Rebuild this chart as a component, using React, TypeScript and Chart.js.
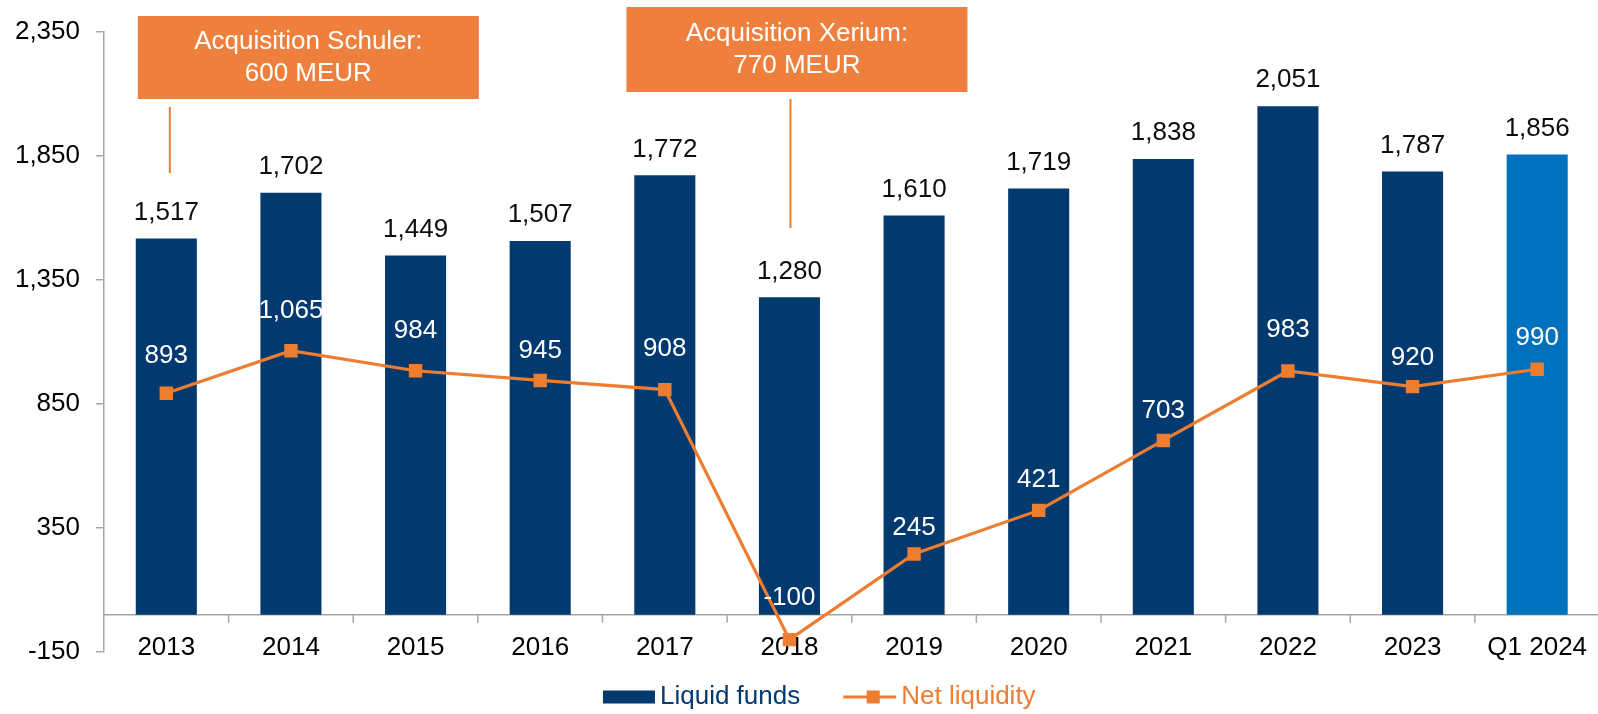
import React, { useEffect, useRef } from "react";
import { Chart, registerables } from "chart.js";

Chart.register(...registerables);

const categories = ["2013", "2014", "2015", "2016", "2017", "2018", "2019", "2020", "2021", "2022", "2023", "Q1 2024"];
const liquidFunds = [1517, 1702, 1449, 1507, 1772, 1280, 1610, 1719, 1838, 2051, 1787, 1856];
const netLiquidity = [893, 1065, 984, 945, 908, -100, 245, 421, 703, 983, 920, 990];
const yMin = -150;
const yMax = 2350;
const yStep = 500;
const annotationTexts = [
  ["Acquisition Schuler:", "600 MEUR"],
  ["Acquisition Xerium:", "770 MEUR"],
];
const annotationCategories = [0, 5];
const seriesNames = ["Liquid funds", "Net liquidity"];

const FONT = '"Liberation Sans", Arial, Helvetica, sans-serif';
const NAVY = "#02396F";
const LIGHT_BLUE = "#0071BC";
const ORANGE = "#ED7D31";
const BOX_ORANGE = "#EE7F3C";
const AXIS = "#A6A6A6";

// style: vertical offsets of the net-liquidity labels above their points
const lineLabelOffsets = [38, 40, 40, 30, 41, 42, 26, 31, 30, 41, 29, 31];

const fmt = (v: number) => Number(v).toLocaleString("en-US");

const customPlugin = {
  id: "customDraw",
  beforeDatasetsDraw(chart: any) {
    const { ctx, chartArea, scales } = chart;
    const x = scales.x;
    const y = scales.y;
    const y0 = y.getPixelForValue(0);
    const half = (x.getPixelForValue(1) - x.getPixelForValue(0)) / 2;
    ctx.save();
    ctx.strokeStyle = AXIS;
    ctx.lineWidth = 1.5;
    ctx.beginPath();
    ctx.moveTo(chartArea.left, y0);
    ctx.lineTo(chartArea.right, y0);
    for (let i = 0; i < categories.length; i++) {
      const px = x.getPixelForValue(i) + half;
      ctx.moveTo(px, y0);
      ctx.lineTo(px, y0 + 8);
    }
    ctx.stroke();
    ctx.restore();
  },
  afterDatasetsDraw(chart: any) {
    const { ctx, scales } = chart;
    const x = scales.x;
    ctx.save();
    ctx.font = `26px ${FONT}`;
    ctx.textAlign = "center";
    ctx.textBaseline = "middle";

    // bar labels
    const barMeta = chart.getDatasetMeta(0);
    barMeta.data.forEach((el: any, i: number) => {
      ctx.fillStyle = "#0D0D0D";
      ctx.fillText(fmt(liquidFunds[i]), el.x, el.y - 26);
    });

    // line labels
    const lineMeta = chart.getDatasetMeta(1);
    lineMeta.data.forEach((el: any, i: number) => {
      ctx.fillStyle = "#FFFFFF";
      ctx.fillText(fmt(netLiquidity[i]), el.x, el.y - lineLabelOffsets[i]);
    });

    // annotations
    const boxes = [
      { cx: x.getPixelForValue(annotationCategories[0]) + 142, top: 16, bottom: 99, lineTop: 107, lineBottom: 173 },
      { cx: x.getPixelForValue(annotationCategories[1]) + 7.5, top: 7, bottom: 92, lineTop: 99, lineBottom: 228 },
    ];
    boxes.forEach((b, k) => {
      const w = 341;
      ctx.fillStyle = BOX_ORANGE;
      ctx.fillRect(b.cx - w / 2, b.top, w, b.bottom - b.top);
      const mid = (b.top + b.bottom) / 2;
      ctx.fillStyle = "#FFFFFF";
      ctx.fillText(annotationTexts[k][0], b.cx, mid - 16);
      ctx.fillText(annotationTexts[k][1], b.cx, mid + 16);
      const lx = x.getPixelForValue(annotationCategories[k]) + (k === 0 ? 3.5 : 1);
      ctx.strokeStyle = ORANGE;
      ctx.lineWidth = 2;
      ctx.beginPath();
      ctx.moveTo(lx, b.lineTop);
      ctx.lineTo(lx, b.lineBottom);
      ctx.stroke();
    });

    // legend
    const ly = 697;
    let lx = 603;
    ctx.textAlign = "left";
    ctx.fillStyle = NAVY;
    ctx.fillRect(lx, ly - 6.5, 52, 13);
    lx += 57;
    ctx.fillText(seriesNames[0], lx, ly);
    lx += ctx.measureText(seriesNames[0]).width + 43;
    ctx.strokeStyle = ORANGE;
    ctx.lineWidth = 3;
    ctx.beginPath();
    ctx.moveTo(lx, ly);
    ctx.lineTo(lx + 53, ly);
    ctx.stroke();
    ctx.fillStyle = ORANGE;
    ctx.fillRect(lx + 23.5, ly - 6.5, 13, 13);
    lx += 58;
    ctx.fillText(seriesNames[1], lx, ly);
    ctx.restore();
  },
};

export default function App() {
  const canvasRef = useRef<HTMLCanvasElement | null>(null);

  useEffect(() => {
    if (!canvasRef.current) return;
    const barColors = categories.map((_, i) => (i === categories.length - 1 ? LIGHT_BLUE : NAVY));
    const chart = new Chart(canvasRef.current, {
      type: "bar",
      data: {
        labels: categories,
        datasets: [
          {
            type: "bar",
            label: seriesNames[0],
            data: liquidFunds,
            backgroundColor: barColors,
            barPercentage: 0.49,
            categoryPercentage: 1,
            order: 2,
          } as any,
          {
            type: "line",
            label: seriesNames[1],
            data: netLiquidity,
            borderColor: ORANGE,
            borderWidth: 3.2,
            pointStyle: "rect",
            pointRadius: 9.5,
            pointBackgroundColor: ORANGE,
            pointBorderWidth: 0,
            tension: 0,
            order: 1,
          } as any,
        ],
      },
      options: {
        responsive: false,
        animation: false,
        devicePixelRatio: 1,
        layout: { padding: { top: 32, left: 0, right: 0, bottom: 0 } },
        plugins: {
          legend: { display: false },
          tooltip: { enabled: false },
        },
        scales: {
          x: {
            grid: { display: false, drawTicks: false },
            border: { display: false },
            ticks: {
              font: { size: 26, family: FONT },
              color: "#000000",
              mirror: true,
              padding: -11,
              maxRotation: 0,
              autoSkip: false,
            },
            afterFit: (s: any) => {
              s.height = 62;
            },
          },
          y: {
            min: yMin,
            max: yMax,
            ticks: {
              stepSize: yStep,
              font: { size: 26, family: FONT },
              color: "#000000",
              padding: 16,
              callback: (v: any) => fmt(Number(v)),
            },
            grid: {
              display: true,
              drawOnChartArea: false,
              drawTicks: true,
              tickLength: 8,
              color: AXIS,
              lineWidth: 1.5,
            },
            border: { display: true, color: AXIS, width: 1.5 },
            afterFit: (s: any) => {
              s.width = 104;
            },
          },
        },
      } as any,
      plugins: [customPlugin],
    });
    return () => chart.destroy();
  }, []);

  return (
    <div
      style={{
        position: "fixed",
        left: 0,
        top: 0,
        width: "100vw",
        height: "100vh",
        overflow: "hidden",
        background: "#ffffff",
      }}
    >
      <canvas ref={canvasRef} width={1609} height={714} style={{ display: "block" }} />
    </div>
  );
}
